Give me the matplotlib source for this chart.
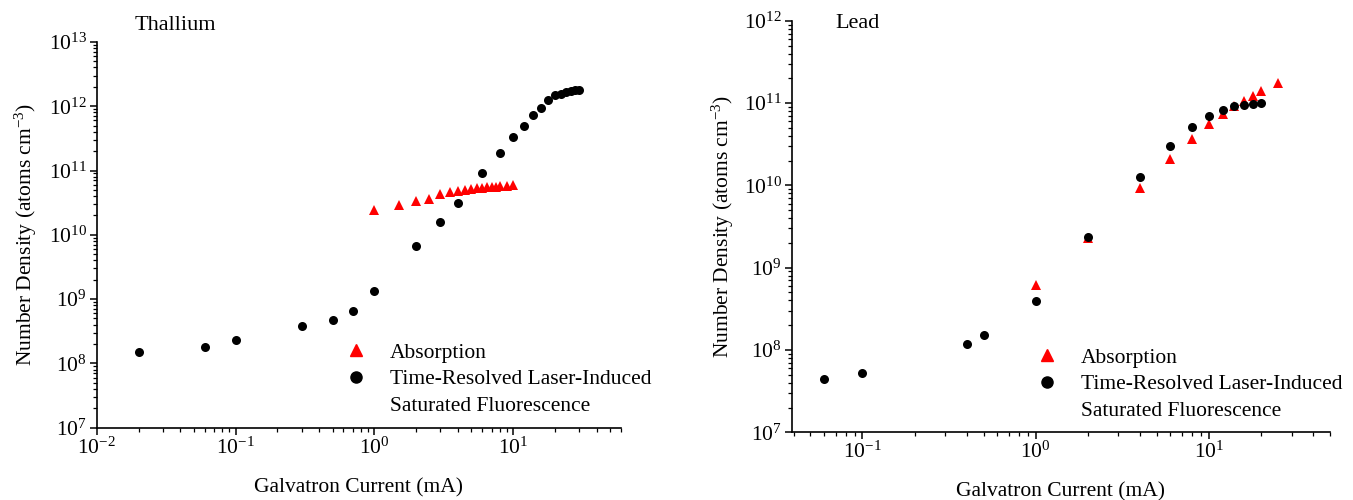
import matplotlib
matplotlib.use("Agg")
import matplotlib.pyplot as plt
from matplotlib.lines import Line2D
from matplotlib.ticker import LogLocator, NullFormatter

plt.rcParams['font.family'] = ['Liberation Serif', 'DejaVu Serif']
plt.rcParams['mathtext.fontset'] = 'custom'
plt.rcParams['mathtext.rm'] = 'Liberation Serif'
plt.rcParams['mathtext.it'] = 'Liberation Serif:italic'
plt.rcParams['axes.unicode_minus'] = False

## Thallium
tl_abs_x = [1, 1.5, 2, 2.5, 3, 3.5, 4, 4.5, 5, 5.5, 6, 6.5, 7, 7.5, 8, 9, 10]
tl_abs_y = [2.4e10, 2.9e10, 3.3e10, 3.55e10, 4.3e10, 4.7e10, 4.85e10, 5.05e10, 5.2e10,
            5.3e10, 5.4e10, 5.5e10, 5.55e10, 5.6e10, 5.65e10, 5.75e10, 5.85e10]
tl_lif_x = [0.02, 0.06, 0.1, 0.3, 0.5, 0.7, 1, 2, 3, 4, 6, 8, 10, 12, 14, 16, 18, 20,
            22, 24, 26, 28, 30]
tl_lif_y = [1.53e8, 1.79e8, 2.32e8, 3.84e8, 4.77e8, 6.6e8, 1.36e9, 6.6e9, 1.6e10, 3.1e10,
            9.1e10, 1.88e11, 3.35e11, 4.95e11, 7.2e11, 9.4e11, 1.27e12, 1.49e12, 1.55e12,
            1.66e12, 1.7e12, 1.8e12, 1.8e12]

## Lead
pb_abs_x = [1, 2, 4, 6, 8, 10, 12, 14, 16, 18, 20, 25]
pb_abs_y = [6.15e8, 2.31e9, 9.2e9, 2.07e10, 3.7e10, 5.56e10, 7.4e10, 9.2e10, 1.07e11,
            1.23e11, 1.41e11, 1.74e11]
pb_lif_x = [0.06, 0.1, 0.4, 0.5, 1, 2, 4, 6, 8, 10, 12, 14, 16, 18, 20]
pb_lif_y = [4.4e7, 5.2e7, 1.18e8, 1.52e8, 3.9e8, 2.38e9, 1.25e10, 3.0e10, 5.1e10, 6.95e10,
            8.2e10, 9.2e10, 9.4e10, 9.7e10, 9.9e10]

abs_label = "Absorption"
lif_label = "Time-Resolved Laser-Induced"
lif_label2 = "Saturated Fluorescence"

fig = plt.figure(figsize=(13.53, 5.0), dpi=100)
ax1 = fig.add_axes([0.0715, 0.1446, 0.3875, 0.7716])
ax2 = fig.add_axes([0.5851, 0.1354, 0.3979, 0.8230])


def style_axis(ax, xlim, ylim):
    ax.set_xscale("log")
    ax.set_yscale("log")
    ax.set_xlim(*xlim)
    ax.set_ylim(*ylim)
    for s in ["top", "right"]:
        ax.spines[s].set_visible(False)
    for s in ["left", "bottom"]:
        ax.spines[s].set_linewidth(1.2)
    ax.xaxis.set_major_locator(LogLocator(base=10, numticks=20))
    ax.yaxis.set_major_locator(LogLocator(base=10, numticks=20))
    ax.xaxis.set_minor_locator(LogLocator(base=10, subs=range(2, 10), numticks=20))
    ax.yaxis.set_minor_locator(LogLocator(base=10, subs=range(2, 10), numticks=20))
    ax.xaxis.set_minor_formatter(NullFormatter())
    ax.yaxis.set_minor_formatter(NullFormatter())
    ax.tick_params(which="major", direction="out", length=5, width=1.1, labelsize=15.5, pad=2)
    ax.tick_params(which="minor", direction="out", length=3, width=0.9)
    ax.set_xlabel("Galvatron Current (mA)", fontsize=15.5, labelpad=14)
    ax.set_ylabel("Number Density (atoms cm$^{-3}$)", fontsize=15.5)


def add_legend(ax, x0, y0):
    h1 = Line2D([], [], ls="none", marker="^", color="red", ms=8)
    h2 = Line2D([], [], ls="none", marker="o", color="black", ms=8)
    h3 = Line2D([], [], ls="none", marker=None)
    ax.legend([h1, h2, h3], [abs_label, lif_label, lif_label2], loc="upper left",
              bbox_to_anchor=(x0, y0), bbox_transform=fig.transFigure, frameon=False,
              fontsize=15.5, handlelength=1.0, handletextpad=1.1, borderpad=0,
              labelspacing=0.3)


# Thallium panel
ax1.plot(tl_abs_x, tl_abs_y, ls="none", marker="^", color="red", ms=7, mew=0)
ax1.plot(tl_lif_x, tl_lif_y, ls="none", marker="o", color="black", ms=6.5, mew=0)
style_axis(ax1, (0.01, 60), (1e7, 1e13))
ax1.yaxis.set_label_coords(-0.11, 0.5)
fig.text(135 / 1353, 1 - 25 / 500, "Thallium", fontsize=16, va="center")
add_legend(ax1, 334 / 1353, 1 - 332 / 500)

# Lead panel
ax2.plot(pb_abs_x, pb_abs_y, ls="none", marker="^", color="red", ms=7, mew=0)
ax2.plot(pb_lif_x, pb_lif_y, ls="none", marker="o", color="black", ms=6.5, mew=0)
style_axis(ax2, (0.039, 50), (1e7, 1e12))
ax2.yaxis.set_label_coords(-0.104, 0.5)
fig.text(835 / 1353, 1 - 23 / 500, "Lead", fontsize=16, va="center")
add_legend(ax2, 1025 / 1353, 1 - 337 / 500)

fig.savefig("out.png", dpi=100)
